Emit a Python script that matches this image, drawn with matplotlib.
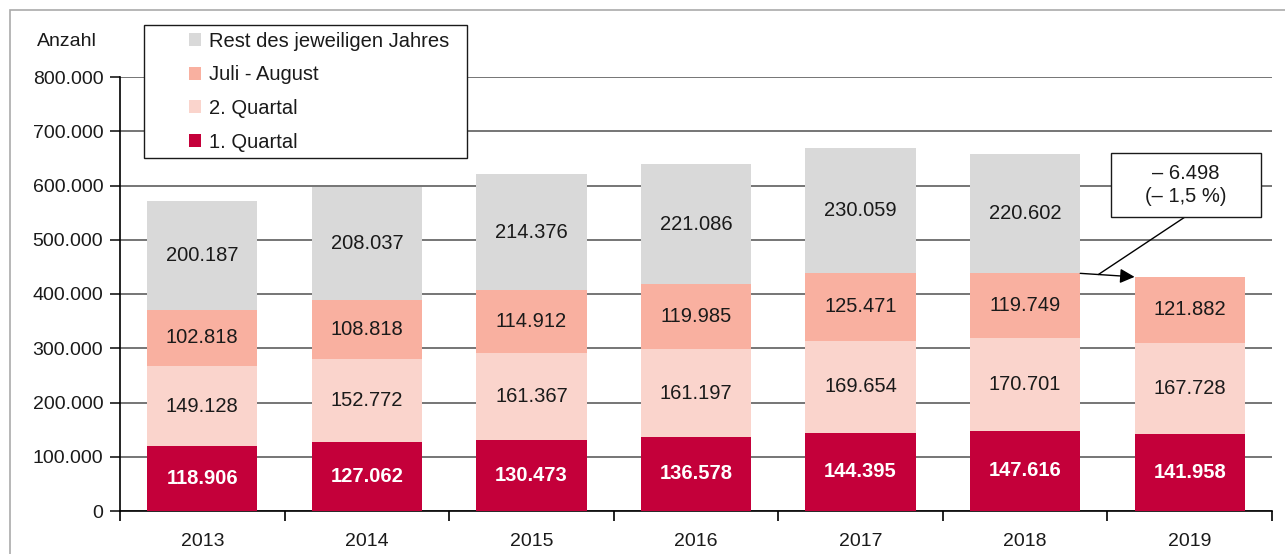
import matplotlib.pyplot as plt
from matplotlib.patches import Rectangle
from matplotlib.ticker import FuncFormatter

plt.rcParams['font.family'] = ['Liberation Sans', 'DejaVu Sans']

# data
years = ['2013', '2014', '2015', '2016', '2017', '2018', '2019']
q1 = [118906, 127062, 130473, 136578, 144395, 147616, 141958]
q2 = [149128, 152772, 161367, 161197, 169654, 170701, 167728]
jul_aug = [102818, 108818, 114912, 119985, 125471, 119749, 121882]
rest = [200187, 208037, 214376, 221086, 230059, 220602, None]

labels = ['1. Quartal', '2. Quartal', 'Juli - August', 'Rest des jeweiligen Jahres']
colors = ['#C4003A', '#FAD4CC', '#F9B0A0', '#D9D9D9']
TXT = '#1A1A1A'

def fmt(v):
    return f'{v:,.0f}'.replace(',', '.')

W, H = 1285, 554
def fx(px):
    return px / W
def fy(py):
    return 1 - py / H

fig = plt.figure(figsize=(12.85, 5.54), dpi=100)
# outer frame
fig.patches.append(Rectangle((fx(10), -0.1), 1.2, fy(10) + 0.1,
                             transform=fig.transFigure, fill=False,
                             edgecolor='#AAAAAA', lw=1.2))
ax = fig.add_axes([fx(120), fy(511), fx(1272) - fx(120), fy(77) - fy(511)])

x = list(range(len(years)))
w = 0.67
series = [q1, q2, jul_aug, rest]
bottoms = [0] * len(years)
bars = []
for s, lab, col in zip(series, labels, colors):
    xs = [xi for xi, v in zip(x, s) if v is not None]
    vals = [v for v in s if v is not None]
    bots = [b for b, v in zip(bottoms, s) if v is not None]
    b = ax.bar(xs, vals, w, bottom=bots, color=col, label=lab, zorder=3)
    bars.append(b)
    for xi, v, bo in zip(xs, vals, bots):
        if lab == '1. Quartal':
            ax.text(xi, bo + v / 2, fmt(v), ha='center', va='center',
                    color='white', fontsize=14.5, fontweight='bold', zorder=4)
        else:
            ax.text(xi, bo + v / 2, fmt(v), ha='center', va='center',
                    color=TXT, fontsize=14.5, zorder=4)
    bottoms = [bo + (v if v is not None else 0) for bo, v in zip(bottoms, s)]

ax.set_xlim(-0.5, len(years) - 0.5)
ax.set_ylim(0, 800000)
ax.set_yticks(range(0, 800001, 100000))
ax.yaxis.set_major_formatter(FuncFormatter(lambda v, p: fmt(v)))
ax.set_xticks(x)
ax.set_xticklabels(years)
ax.set_xticks([i - 0.5 for i in range(len(years) + 1)], minor=True)
ax.tick_params(axis='x', which='major', length=0, pad=16, labelsize=14, colors=TXT)
ax.tick_params(axis='x', which='minor', length=7, width=1.2, direction='out')
ax.tick_params(axis='y', length=7, width=1.2, labelsize=14, pad=5, colors=TXT)
ax.grid(axis='y', color='#505050', lw=1.1, zorder=0)
for sp in ['top', 'right']:
    ax.spines[sp].set_visible(False)
ax.spines['left'].set_linewidth(1.2)
ax.spines['bottom'].set_linewidth(1.2)

fig.text(fx(37), fy(42), 'Anzahl', fontsize=14, va='center', ha='left', color=TXT)

# legend frame drawn separately so the entries can be indented
ax.add_patch(Rectangle((fx(144), fy(158)), fx(467) - fx(144), fy(25) - fy(158),
                       transform=fig.transFigure, clip_on=False,
                       fc='white', ec=TXT, lw=1.0, zorder=9))
leg = ax.legend(bars[::-1], labels[::-1], loc='upper left',
                bbox_to_anchor=(fx(189), fy(32)), bbox_transform=fig.transFigure,
                fontsize=14.5, frameon=False, handlelength=0.62,
                handleheight=0.62, handletextpad=0.35, labelspacing=0.72,
                borderpad=0, borderaxespad=0)
leg.set_zorder(10)
for t in leg.get_texts():
    t.set_color(TXT)

# change annotation between 2018 and 2019
top18 = q1[5] + q2[5] + jul_aug[5]
top19 = q1[6] + q2[6] + jul_aug[6]
diff = top19 - top18
pct = diff / top18 * 100
ax.annotate('', xy=(6 - w / 2, top19), xytext=(5 + w / 2, top18),
            arrowprops=dict(arrowstyle='-|>', color='black', lw=1,
                            mutation_scale=22, shrinkA=0, shrinkB=0), zorder=6)
mx = 5 + w / 2 + 0.11
my = top18 + (top19 - top18) * 0.11 / (1 - w)
ax.annotate('', xy=(mx, my), xytext=(fx(1185), fy(217)),
            textcoords='figure fraction',
            arrowprops=dict(arrowstyle='-', color='black', lw=1, shrinkA=0, shrinkB=0),
            zorder=6)
ax.add_patch(Rectangle((fx(1111), fy(217)), fx(1261) - fx(1111), fy(153) - fy(217),
                       transform=fig.transFigure, clip_on=False,
                       fc='white', ec=TXT, lw=1.0, zorder=7))
diff_txt = '– ' + fmt(-diff) + '\n(– ' + f'{-pct:.1f}'.replace('.', ',') + ' %)'
ax.text(fx(1186), fy(185), diff_txt, transform=fig.transFigure, ha='center',
        va='center', fontsize=14.5, color=TXT, linespacing=1.25, zorder=8)

fig.savefig('out.png', dpi=100)
